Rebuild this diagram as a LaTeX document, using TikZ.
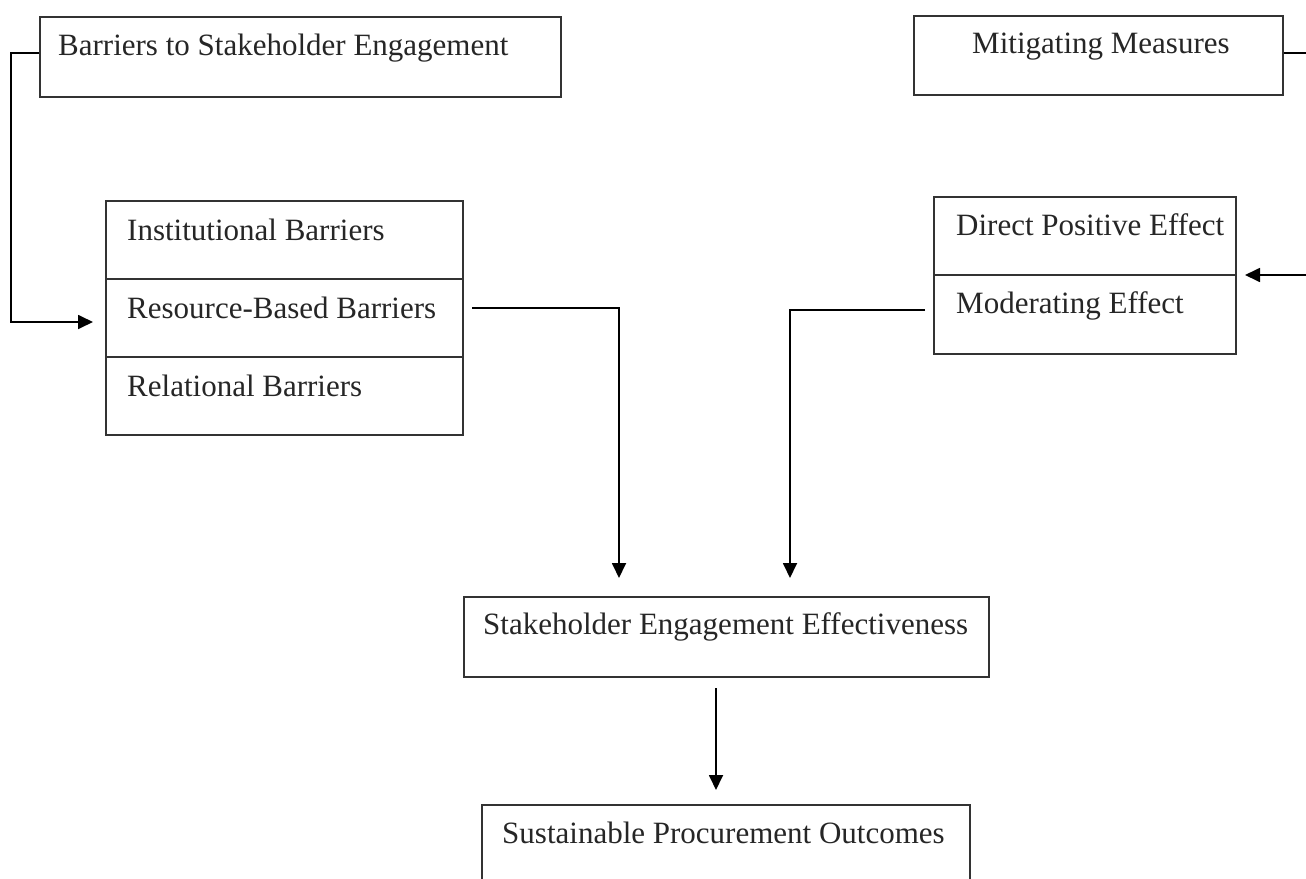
\documentclass[tikz,border=0pt]{standalone}
\usepackage{fontspec}
\setmainfont{Liberation Serif}
\usetikzlibrary{arrows.meta}
\begin{document}
\begin{tikzpicture}[x=1pt,y=-1pt,
  box/.style={draw=black!80, line width=1.8pt, rectangle, inner sep=0pt, anchor=north west},
  lbl/.style={anchor=base west, inner sep=0pt, font=\fontsize{31}{36}\selectfont, text=black!85},
  conn/.style={draw=black, line width=1.8pt},
  arr/.style={conn, -{Triangle[length=15pt,width=14pt]}}]
\useasboundingbox (0,0) rectangle (1306,878);
\clip (0,0) rectangle (1306,878);
\fill[white] (0,0) rectangle (1306,878);
% top boxes
\node[box, minimum width=521, minimum height=80] (bse) at (39,16) {};
\node[lbl] (bset) at (58,55) {Barriers to Stakeholder Engagement};
\node[box, minimum width=369, minimum height=79] (mm) at (913,15) {};
\node[lbl] (mmt) at (972,53) {Mitigating Measures};
% barriers stack
\node[box, minimum width=357, minimum height=78] (inst) at (105,200) {};
\node[box, minimum width=357, minimum height=78] (res) at (105,278) {};
\node[box, minimum width=357, minimum height=78] (rel) at (105,356) {};
\node[lbl] (instt) at (127,240) {Institutional Barriers};
\node[lbl] (rest) at (127,318) {Resource-Based Barriers};
\node[lbl] (relt) at (127,396) {Relational Barriers};
% effects stack
\node[box, minimum width=302, minimum height=78] (dpe) at (933,196) {};
\node[box, minimum width=302, minimum height=79] (mod) at (933,274) {};
\node[lbl] (dpet) at (956,235) {Direct Positive Effect};
\node[lbl] (modt) at (956,313) {Moderating Effect};
% bottom boxes
\node[box, minimum width=525, minimum height=80] (see) at (463,596) {};
\node[lbl] (seet) at (483,634) {Stakeholder Engagement Effectiveness};
\node[box, minimum width=488, minimum height=90] (spo) at (481,804) {};
\node[lbl] (spot) at (502,843) {Sustainable Procurement Outcomes};
% connector coordinates
\coordinate (l1) at (11,53);
\coordinate (l2) at (11,322);
\coordinate (l3) at (93,322);
\coordinate (r1) at (472,308);
\coordinate (r2) at (619,308);
\coordinate (r3) at (619,578);
\coordinate (m1) at (925,310);
\coordinate (m2) at (790,310);
\coordinate (m3) at (790,578);
\coordinate (s1) at (716,688);
\coordinate (s2) at (716,790);
\coordinate (e1) at (1310,53);
\coordinate (e2) at (1310,275);
\coordinate (e3) at (1245,275);
% connectors
\draw[arr] (bse.west |- l1) -- (l1) -- (l2) -- (l3);
\draw[arr] (r1) -- (r2) -- (r3);
\draw[arr] (m1) -- (m2) -- (m3);
\draw[arr] (s1) -- (s2);
\draw[arr] (mm.east |- e1) -- (e1) -- (e2) -- (e3);
\end{tikzpicture}
\end{document}
